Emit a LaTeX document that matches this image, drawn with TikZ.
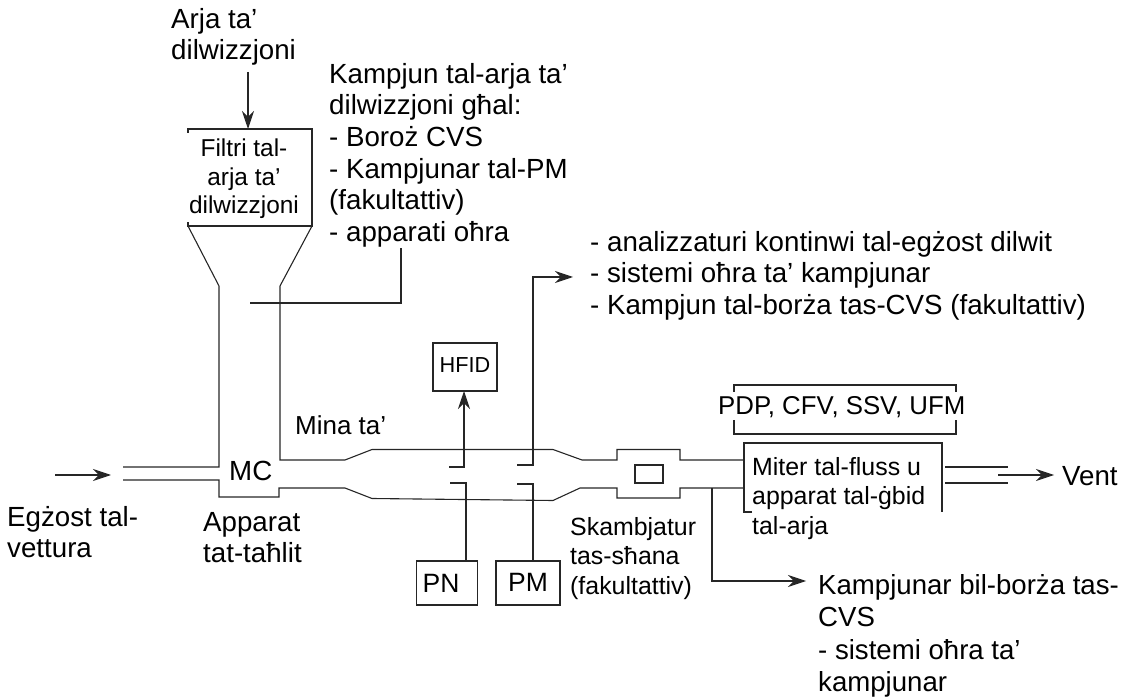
\documentclass[tikz,border=0pt]{standalone}
\usepackage{fontspec}
\setmainfont{Liberation Sans}
\usepackage{tikz}
\usetikzlibrary{arrows.meta,positioning}
\definecolor{ink}{HTML}{262626}
\tikzset{
  pipe/.style = {draw=ink, line width=1.1pt},
  arrow/.style = {draw=ink, line width=1.1pt, -{Stealth[length=18pt, width=12pt]}},
  lbl/.style = {inner sep=0pt, align=left, anchor=north west, text=black, font=\fontsize{27.7}{31.6}\selectfont},
  smalllbl/.style = {lbl, font=\fontsize{24.9}{29.5}\selectfont},
  box/.style = {draw=ink, line width=1.1pt, inner sep=0pt, text=black, font=\fontsize{26.5}{30}\selectfont}
}

\begin{document}
\begin{tikzpicture}[x=1pt, y=-1pt]
    \useasboundingbox (0,0) rectangle (1125,700);
    % boxes
    \node[box, minimum width=61pt, minimum height=44pt] (pn) at (447,583) {PN\kern12pt};
    \node[box, minimum width=64pt, minimum height=44pt] (pm) at (528,583) {\raisebox{2pt}{PM}};
    \node[box, minimum width=64pt, minimum height=48pt, font=\fontsize{21.7}{24}\selectfont] (hfid) at (465,367) {\raisebox{3pt}{HFID}};
    \node[draw=ink, line width=1.1pt, minimum width=28pt, minimum height=18pt, inner sep=0pt] (hx) at (649,474) {};
    % texts
    \node[lbl] (dilair) at (171,8) {Arja ta’\\dilwizzjoni};
    \node[lbl] (dilsample) at (329,63) {Kampjun tal-arja ta’\\dilwizzjoni għal:\\- Boroż CVS\\- Kampjunar tal-PM\\(fakultattiv)\\- apparati oħra};
    \node[lbl] (rawsample) at (590,231) {- analizzaturi kontinwi tal-egżost dilwit\\- sistemi oħra ta’ kampjunar\\- Kampjun tal-borża tas-CVS (fakultattiv)};
    \node[inner sep=0pt, align=center, text=black, font=\fontsize{24.4}{28.5}\selectfont] (filter) at (244,179) {Filtri tal-\\arja ta’\\dilwizzjoni};
    \node[smalllbl, font=\fontsize{26}{29.5}\selectfont] (tunnel) at (295,415) {Mina ta’};
    \node[lbl] (mc) at (229,461) {MC};
    \node[lbl] (mixer) at (203,512) {Apparat\\tat-taħlit};
    \node[lbl] (exhaust) at (7,506) {Egżost tal-\\vettura};
    \node[smalllbl] (exch) at (570,517) {Skambjatur\\tas-sħana\\(fakultattiv)};
    \node[smalllbl] (meter) at (752,457) {Miter tal-fluss u\\apparat tal-ġbid\\tal-arja};
    \node[lbl, font=\fontsize{25.8}{31.5}\selectfont] (flow) at (718,396) {PDP, CFV, SSV, UFM};
    \node[lbl] (vent) at (1062,466) {Vent};
    \node[lbl, font=\fontsize{27.6}{32.5}\selectfont] (bag) at (818,574) {Kampjunar bil-borża tas-\\CVS\\- sistemi oħra ta’\\kampjunar};
    % filter and tunnel walls
    \draw[pipe] (188,133) -- (188,129) -- (312,129) -- (312,226) -- (188,226) -- (188,222);
    \draw[pipe] (188,226) -- (219,286) -- (219,467) -- (123,467);
    \draw[pipe] (312,226) -- (280,286) -- (280,460) -- (345,460) -- (372,449.5) -- (553,449.5)
        -- (582,460) -- (617,460) -- (617,449.5) -- (680,449.5) -- (680,460) -- (744,460);
    \draw[pipe] (123,480) -- (219,480) -- (219,497) -- (279,497) -- (279,488) -- (345,488)
        -- (372,498.5) -- (553,500.5) -- (580,488) -- (617,488) -- (617,498) -- (680,498)
        -- (680,488) -- (744,488);
    % meter and bracket
    \draw[pipe] (752,512) -- (744,512) -- (744,443) -- (942,443) -- (942,512);
    \draw[pipe] (734,392) -- (734,385) -- (956,385) -- (956,392);
    \draw[pipe] (734,420) -- (734,434) -- (956,434) -- (956,420);
    \draw[pipe] (945,467) -- (1008,467);
    \draw[pipe] (945,483) -- (1008,483);
    % connectors
    \coordinate (inlet) at (55,475);
    \coordinate (inletend) at (111,475);
    \draw[arrow] (inlet) -- (inletend);
    \coordinate (ventstart) at (998,475);
    \coordinate (ventend) at (1054,475);
    \draw[arrow] (ventstart) -- (ventend);
    \coordinate (dilstart) at (248,72);
    \coordinate (dilend) at (248,129);
    \draw[arrow] (dilstart) -- (dilend);
    \coordinate (dilprobe) at (250,303);
    \coordinate (dilout) at (401,248);
    \draw[pipe] (dilprobe) -- (401,303) -- (dilout);
    \coordinate (hfidprobe) at (449,467);
    \draw[arrow] (hfidprobe) -- (464,467) -- (464,391);
    \coordinate (rawprobe) at (517,465);
    \coordinate (rawend) at (573,277);
    \draw[arrow] (rawprobe) -- (533,465) |- (rawend);
    \coordinate (pnprobe) at (450,483);
    \coordinate (pntop) at (466,561);
    \draw[pipe] (pnprobe) -- (466,483) -- (pntop);
    \coordinate (pmprobe) at (517,484);
    \coordinate (pmtop) at (533,561);
    \draw[pipe] (pmprobe) -- (533,484) -- (pmtop);
    \coordinate (bagtap) at (712,488);
    \coordinate (bagend) at (806,581);
    \draw[arrow] (bagtap) |- (bagend);
\end{tikzpicture}
\end{document}
